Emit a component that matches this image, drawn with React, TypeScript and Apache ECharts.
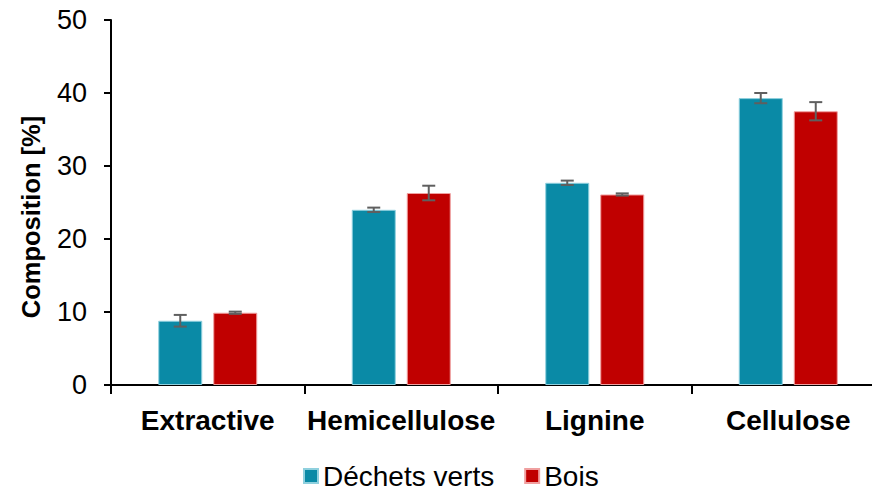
import React, { useEffect, useRef } from "react";
import * as echarts from "echarts";

const categories = ["Extractive", "Hemicellulose", "Lignine", "Cellulose"];
const dechetsVerts = [8.8, 24.0, 27.7, 39.3];
const dechetsVertsErr = [0.8, 0.3, 0.3, 0.7];
const bois = [9.9, 26.3, 26.1, 37.5];
const boisErr = [0.15, 1.0, 0.15, 1.25];
const yTicks = [0, 10, 20, 30, 40, 50];
const yTitle = "Composition [%]";

const TEAL = "#0A8AA6";
const RED = "#C00000";
const BAR_W = 44;
const BAR_GAP_PX = 11;
const FONT = "Liberation Sans, Arial, sans-serif";

function errorSeries(vals: number[], errs: number[], offset: number) {
  return {
    type: "custom",
    silent: true,
    z: 10,
    data: vals.map((v, i) => [i, v, errs[i]]),
    renderItem: (params: any, api: any) => {
      const idx = api.value(0);
      const v = api.value(1);
      const e = api.value(2);
      const hi = api.coord([idx, v + e]);
      const lo = api.coord([idx, v - e]);
      const x = hi[0] + offset;
      const cap = 6.5;
      const style = { stroke: "#5F5F5F", lineWidth: 2 };
      return {
        type: "group",
        children: [
          { type: "line", shape: { x1: x, y1: hi[1], x2: x, y2: lo[1] }, style },
          { type: "line", shape: { x1: x - cap, y1: hi[1], x2: x + cap, y2: hi[1] }, style },
          { type: "line", shape: { x1: x - cap, y1: lo[1], x2: x + cap, y2: lo[1] }, style },
        ],
      };
    },
  };
}

export default function App() {
  const ref = useRef<HTMLDivElement>(null);
  useEffect(() => {
    if (!ref.current) return;
    document.body.style.margin = "0";
    const chart = echarts.init(ref.current, null, { renderer: "svg" });
    const off = (BAR_W + BAR_GAP_PX) / 2;
    chart.setOption({
      animation: false,
      textStyle: { fontFamily: FONT },
      grid: { left: 111, right: 15, top: 20, bottom: 105, containLabel: false },
      graphic: [
        {
          type: "text",
          x: 31,
          y: 217,
          rotation: Math.PI / 2,
          style: {
            text: yTitle,
            fontSize: 25.5,
            fontWeight: "bold",
            fontFamily: FONT,
            fill: "#000",
            align: "center",
            verticalAlign: "middle",
          },
        },
      ],
      legend: {
        top: 462,
        left: 303,
        padding: 0,
        itemWidth: 14,
        itemHeight: 14,
        itemGap: 30,
        icon: "rect",
        textStyle: { fontSize: 28, lineHeight: 28, color: "#000", fontFamily: FONT },
        data: ["Déchets verts", "Bois"],
      },
      xAxis: {
        type: "category",
        data: categories,
        axisLine: { lineStyle: { color: "#000", width: 2 } },
        axisTick: { show: true, length: 9, lineStyle: { color: "#000", width: 2 } },
        axisLabel: { interval: 0, fontSize: 28, fontWeight: "bold", color: "#000", margin: 21, fontFamily: FONT },
      },
      yAxis: {
        type: "value",
        min: 0,
        max: 50,
        interval: 10,
        axisLine: { show: true, lineStyle: { color: "#000", width: 2 } },
        axisTick: { show: true, length: 7, lineStyle: { color: "#000", width: 2 } },
        axisLabel: { fontSize: 27, color: "#000", margin: 24, fontFamily: FONT, formatter: (v: number) => (yTicks.includes(v) ? String(v) : "") },
        splitLine: { show: false },
      },
      series: [
        {
          name: "Déchets verts",
          type: "bar",
          data: dechetsVerts,
          barWidth: BAR_W,
          barGap: `${(BAR_GAP_PX / BAR_W) * 100}%`,
          itemStyle: { color: TEAL, borderColor: "#8FD0DE", borderWidth: 1 },
        },
        {
          name: "Bois",
          type: "bar",
          data: bois,
          barWidth: BAR_W,
          itemStyle: { color: RED, borderColor: "#F0A0A0", borderWidth: 1 },
        },
        errorSeries(dechetsVerts, dechetsVertsErr, -off),
        errorSeries(bois, boisErr, off),
      ],
    });
    return () => chart.dispose();
  }, []);
  return (
    <div style={{ width: 872, height: 490, overflow: "hidden", position: "relative" }}>
      <div ref={ref} style={{ width: 900, height: 490 }} />
    </div>
  );
}
